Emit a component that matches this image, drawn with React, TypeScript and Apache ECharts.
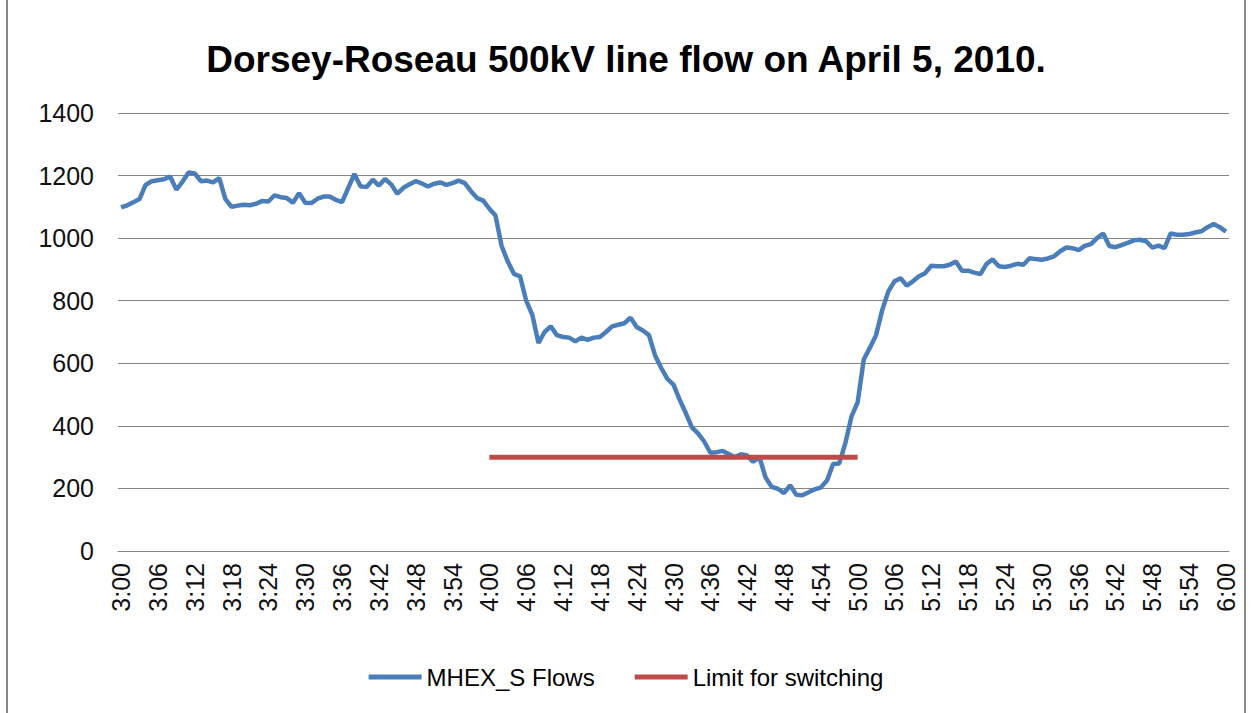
import React, { useEffect, useRef } from "react";
import * as echarts from "echarts";

const startMinute = 180; // 3:00
const times: string[] = Array.from({ length: 181 }, (_, i) => {
  const t = startMinute + i;
  const h = Math.floor(t / 60);
  const m = t % 60;
  return `${h}:${m < 10 ? "0" + m : m}`;
});

const flows: number[] = [
  1098, 1105, 1115, 1125, 1170, 1182, 1185, 1188, 1197, 1155,
  1180, 1210, 1207, 1182, 1184, 1178, 1192, 1125, 1100, 1104,
  1107, 1105, 1110, 1119, 1117, 1137, 1131, 1128, 1113, 1144,
  1113, 1112, 1126, 1133, 1133, 1122, 1115, 1160, 1205, 1166,
  1163, 1187, 1168, 1189, 1172, 1142, 1161, 1172, 1182, 1175,
  1165, 1174, 1178, 1170, 1176, 1184, 1176, 1150, 1128, 1120,
  1094, 1072, 975, 925, 886, 878, 800, 755, 665, 700,
  718, 690, 684, 682, 670, 682, 675, 682, 684, 700,
  718, 723, 728, 746, 716, 705, 690, 625, 585, 550,
  532, 484, 441, 395, 376, 350, 314, 316, 320, 310,
  300, 309, 305, 285, 300, 235, 205, 199, 185, 210,
  180, 178, 188, 197, 203, 225, 278, 280, 345, 430,
  475, 612, 650, 690, 770, 830, 862, 872, 848, 862,
  878, 888, 912, 910, 910, 915, 925, 896, 896, 890,
  885, 918, 932, 910, 908, 912, 918, 915, 936, 933,
  931, 935, 942, 958, 970, 968, 962, 975, 981, 1000,
  1015, 975, 971, 978, 985, 993, 995, 990, 970, 976,
  968, 1015, 1011, 1011, 1013, 1018, 1022, 1035, 1045, 1035,
  1021,
];

const limitValue = 300;
const limitStart = "4:00";
const limitEnd = "5:00";

const yMin = 0;
const yMax = 1400;
const yStep = 200;

export default function App() {
  const ref = useRef<HTMLDivElement>(null);
  useEffect(() => {
    if (!ref.current) return;
    const chart = echarts.init(ref.current, undefined, { renderer: "svg" });
    const si = times.indexOf(limitStart);
    const ei = times.indexOf(limitEnd);
    const limit = times.map((_, i) => (i >= si && i <= ei ? limitValue : null));
    const font = "'Liberation Sans', Arial, sans-serif";
    chart.setOption({
      animation: false,
      backgroundColor: "#fff",
      title: {
        text: "Dorsey-Roseau 500kV line flow on April 5, 2010.",
        left: "center",
        top: 36,
        textStyle: { fontFamily: font, fontSize: 37, fontWeight: "bold", color: "#000" },
      },
      grid: { left: 118, right: 23, top: 113, bottom: 162, containLabel: false },
      legend: {
        bottom: 19,
        left: "center",
        icon: "rect",
        itemWidth: 53,
        itemHeight: 5,
        itemGap: 40,
        textStyle: { fontFamily: font, fontSize: 24, color: "#000" },
        data: ["MHEX_S Flows", "Limit for switching"],
      },
      xAxis: {
        type: "category",
        data: times,
        boundaryGap: true,
        axisLine: { show: true, lineStyle: { color: "#868686", width: 1 } },
        axisTick: { show: false },
        axisLabel: {
          interval: 5,
          rotate: 90,
          margin: 12,
          fontFamily: font,
          fontSize: 25,
          color: "#111",
        },
      },
      yAxis: {
        type: "value",
        min: yMin,
        max: yMax,
        interval: yStep,
        axisLine: { show: false },
        axisTick: { show: false },
        splitLine: { lineStyle: { color: "#868686", width: 1 } },
        axisLabel: {
          margin: 24,
          fontFamily: font,
          fontSize: 25,
          color: "#111",
          formatter: (v: number) => String(v),
        },
      },
      series: [
        {
          name: "MHEX_S Flows",
          type: "line",
          data: flows,
          symbol: "none",
          lineStyle: { color: "#4A7EBB", width: 4.5 },
          itemStyle: { color: "#4A7EBB" },
        },
        {
          name: "Limit for switching",
          type: "line",
          data: limit,
          symbol: "none",
          lineStyle: { color: "#BE4B48", width: 5 },
          itemStyle: { color: "#BE4B48" },
        },
      ],
      graphic: [
        {
          type: "rect",
          shape: { x: 7, y: -2, width: 1238, height: 717 },
          style: { fill: "none", stroke: "#888", lineWidth: 2 },
          silent: true,
        },
      ],
    });
    return () => chart.dispose();
  }, []);
  return (
    <div
      ref={ref}
      style={{ position: "fixed", left: 0, top: 0, width: 1252, height: 713 }}
    />
  );
}
